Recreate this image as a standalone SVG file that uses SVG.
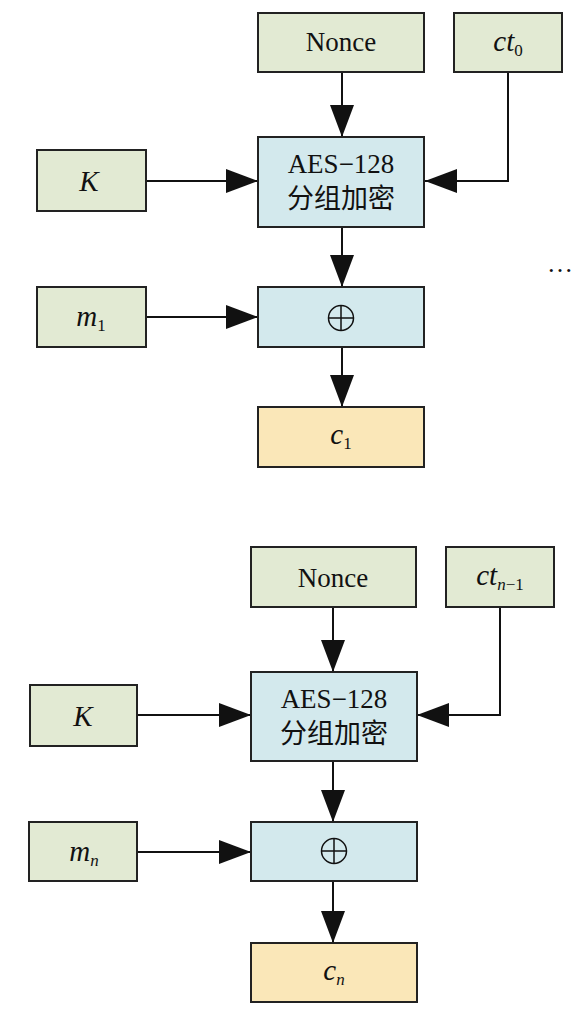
<svg xmlns="http://www.w3.org/2000/svg" width="584" height="1011" viewBox="0 0 584 1011">
<style>
.g{fill:#e2ead3;stroke:#222;stroke-width:2}
.b{fill:#d3e9ed;stroke:#222;stroke-width:2}
.y{fill:#fae7b8;stroke:#222;stroke-width:2}
text{font-family:"Liberation Serif","Noto Sans CJK SC",serif;font-size:27px;fill:#111;text-anchor:middle}
.i{font-style:italic;font-size:29px}
.s{font-size:17px;font-style:normal}
.si{font-size:17px;font-style:italic}
.c{fill:none;stroke:#111;stroke-width:2}
.x{fill:none;stroke:#111;stroke-width:1.5}
</style>
<defs>
<marker id="ah" markerUnits="userSpaceOnUse" markerWidth="32" markerHeight="24" refX="32" refY="12" orient="auto"><path d="M0,0 L32,12 L0,24 Z" fill="#111"/></marker>
</defs>
<g id="connectors">
<path class="c" d="M342,72 V137" marker-end="url(#ah)"/>
<path class="c" d="M508,72 V181 H425" marker-end="url(#ah)"/>
<path class="c" d="M146,181 H258" marker-end="url(#ah)"/>
<path class="c" d="M342,227 V287" marker-end="url(#ah)"/>
<path class="c" d="M146,317 H258" marker-end="url(#ah)"/>
<path class="c" d="M342,347 V407" marker-end="url(#ah)"/>
<path class="c" d="M333,607 V672" marker-end="url(#ah)"/>
<path class="c" d="M500,607 V715 H417" marker-end="url(#ah)"/>
<path class="c" d="M137,715 H251" marker-end="url(#ah)"/>
<path class="c" d="M333,761 V822" marker-end="url(#ah)"/>
<path class="c" d="M137,852 H251" marker-end="url(#ah)"/>
<path class="c" d="M333,881 V943" marker-end="url(#ah)"/>
</g>
<g id="nonce1"><rect class="g" x="258" y="13" width="166" height="59"/><text x="341" y="51">Nonce</text></g>
<g id="ct0"><rect class="g" x="454" y="13" width="108" height="59"/><text x="508" y="51"><tspan class="i">ct</tspan><tspan class="s" dy="5">0</tspan></text></g>
<g id="aes1"><rect class="b" x="258" y="137" width="166" height="90"/><text x="341" y="173">AES−128</text><text x="341" y="208">分组加密</text></g>
<g id="k1"><rect class="g" x="37" y="150" width="109" height="61"/><text class="i" x="89" y="191">K</text></g>
<g id="m1"><rect class="g" x="37" y="287" width="109" height="60"/><text x="91" y="326"><tspan class="i">m</tspan><tspan class="s" dy="5">1</tspan></text></g>
<g id="xor1"><rect class="b" x="258" y="287" width="166" height="60"/><circle class="x" cx="341" cy="318" r="12.5"/><path class="x" d="M328.5,318 H353.5 M341,305.5 V330.5"/></g>
<g id="c1"><rect class="y" x="258" y="407" width="166" height="60"/><text x="341" y="444"><tspan class="i">c</tspan><tspan class="s" dy="5">1</tspan></text></g>
<g id="dots"><text x="560" y="272" style="font-size:26px">…</text></g>
<g id="nonce2"><rect class="g" x="251" y="547" width="165" height="60"/><text x="333" y="587">Nonce</text></g>
<g id="ctn1"><rect class="g" x="446" y="547" width="108" height="60"/><text x="500" y="585"><tspan class="i">ct</tspan><tspan class="si" dy="5">n</tspan><tspan class="s">−1</tspan></text></g>
<g id="aes2"><rect class="b" x="251" y="672" width="166" height="89"/><text x="334" y="708">AES−128</text><text x="334" y="743">分组加密</text></g>
<g id="k2"><rect class="g" x="30" y="685" width="107" height="61"/><text class="i" x="83" y="726">K</text></g>
<g id="mn"><rect class="g" x="29" y="822" width="108" height="59"/><text x="84" y="861"><tspan class="i">m</tspan><tspan class="si" dy="5">n</tspan></text></g>
<g id="xor2"><rect class="b" x="251" y="822" width="166" height="59"/><circle class="x" cx="334" cy="851" r="12.5"/><path class="x" d="M321.5,851 H346.5 M334,838.5 V863.5"/></g>
<g id="cn"><rect class="y" x="251" y="943" width="166" height="59"/><text x="334" y="980"><tspan class="i">c</tspan><tspan class="si" dy="5">n</tspan></text></g>
</svg>
